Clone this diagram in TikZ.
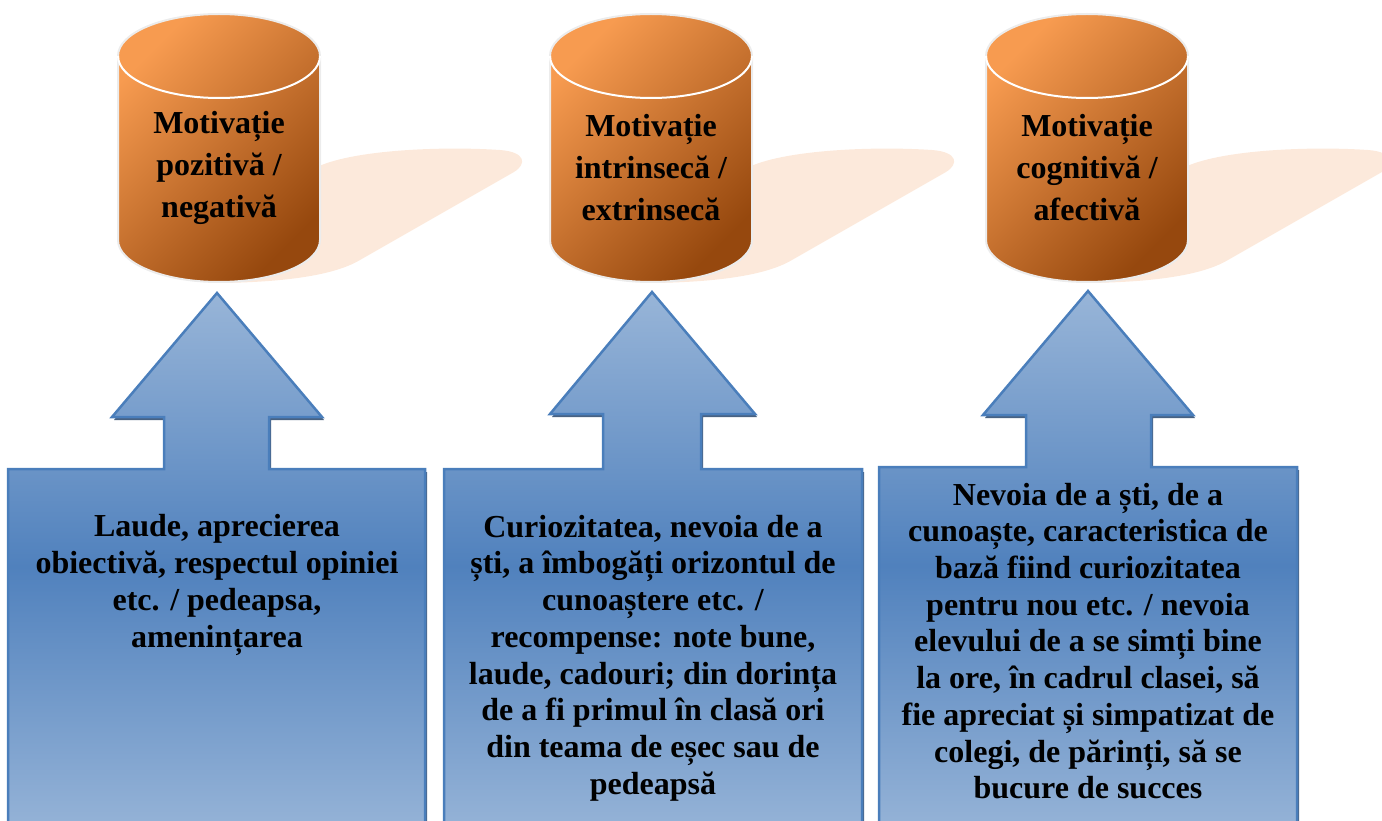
\documentclass[tikz,border=0pt]{standalone}
\usepackage{fontspec}
\setmainfont{Liberation Serif}
\definecolor{orlight}{RGB}{247,155,80}
\definecolor{ordark}{RGB}{150,72,14}
\definecolor{shadowpeach}{RGB}{252,233,219}
\definecolor{bluelight}{RGB}{152,181,216}
\definecolor{bluedark}{RGB}{80,129,189}
\definecolor{blueedge}{RGB}{74,126,187}
\definecolor{blueshadow}{RGB}{40,70,108}
\definecolor{cylrim}{RGB}{236,236,236}
\begin{document}
\begin{tikzpicture}[x=1pt,y=-1pt,
  cyltext/.style={font=\bfseries\fontsize{32}{42}\selectfont, align=center, text=black},
  boxtext/.style={font=\bfseries\fontsize{32}{36.7}\selectfont, align=center, text=black},
  calloutfill/.style={top color=bluelight, bottom color=bluelight, middle color=bluedark, draw=blueedge, line width=2.5pt},
  calloutshadow/.style={fill=blueshadow, opacity=0.85},
  cylfill/.style={top color=orlight, bottom color=ordark, shading angle=45, draw=cylrim, line width=2pt},
  cylshadow/.style={fill=shadowpeach}]
\useasboundingbox (0,0) rectangle (1382,821);
\clip (0,0) rectangle (1382,821);
% shadows of the cylinders
\foreach \dx in {0,432,868}{
  \fill[cylshadow, xshift=\dx pt]
    (220,283) .. controls (300,282) and (340,272) .. (360,260)
    -- (514,172) .. controls (527,164) and (526,152) .. (500,150)
    .. controls (440,146) and (350,150) .. (315,168) -- (250,200) -- cycle;
}
% cylinders
\foreach \dx in {0,432,868}{
  \begin{scope}[xshift=\dx pt]
    \shadedraw[cylfill]
      (118,56) -- (118,240) arc[start angle=180, end angle=0, x radius=101, y radius=42]
      -- (320,56) arc[start angle=0, end angle=-180, x radius=101, y radius=42] -- cycle;
    \draw[white, line width=2pt] (118,56) arc[start angle=180, end angle=0, x radius=101, y radius=42];
  \end{scope}
}
% callout 1
\fill[calloutshadow, shift={(2,3)}] (8,469) -- (164,469) -- (164,417) -- (112,417) -- (217,293) -- (322,417) -- (269,417) -- (269,469) -- (425,469) -- (425,840) -- (8,840) -- cycle;
\shadedraw[calloutfill] (8,469) -- (164,469) -- (164,417) -- (112,417) -- (217,293) -- (322,417) -- (269,417) -- (269,469) -- (425,469) -- (425,840) -- (8,840) -- cycle;
% callout 2
\fill[calloutshadow, shift={(2,3)}] (444,469) -- (603,469) -- (603,414) -- (550,414) -- (652,292) -- (755,414) -- (701,414) -- (701,469) -- (862,469) -- (862,840) -- (444,840) -- cycle;
\shadedraw[calloutfill] (444,469) -- (603,469) -- (603,414) -- (550,414) -- (652,292) -- (755,414) -- (701,414) -- (701,469) -- (862,469) -- (862,840) -- (444,840) -- cycle;
% callout 3
\fill[calloutshadow, shift={(2,3)}] (879,467) -- (1026,467) -- (1026,415) -- (983,415) -- (1088,291) -- (1193,415) -- (1151,415) -- (1151,467) -- (1297,467) -- (1297,840) -- (879,840) -- cycle;
\shadedraw[calloutfill] (879,467) -- (1026,467) -- (1026,415) -- (983,415) -- (1088,291) -- (1193,415) -- (1151,415) -- (1151,467) -- (1297,467) -- (1297,840) -- (879,840) -- cycle;
% texts
\node[cyltext] (c1) at (219,168) {Motivație\\pozitivă /\\negativă};
\node[cyltext] (c2) at (651,168) {Motivație\\intrinsecă /\\extrinsecă};
\node[cyltext] (c3) at (1087,168) {Motivație\\cognitivă /\\afectivă};
\node[boxtext] (t1) at (217,585) {Laude, aprecierea\\obiectivă, respectul opiniei\\etc. / pedeapsa,\\amenințarea};
\node[boxtext] (t2) at (653,658) {Curiozitatea, nevoia de a\\ști, a îmbogăți orizontul de\\cunoaștere etc. /\\recompense: note bune,\\laude, cadouri; din dorința\\de a fi primul în clasă ori\\din teama de eșec sau de\\pedeapsă};
\node[boxtext] (t3) at (1088,641) {Nevoia de a ști, de a\\cunoaște, caracteristica de\\bază fiind curiozitatea\\pentru nou etc. / nevoia\\elevului de a se simți bine\\la ore, în cadrul clasei, să\\fie apreciat și simpatizat de\\colegi, de părinți, să se\\bucure de succes};
\end{tikzpicture}
\end{document}
